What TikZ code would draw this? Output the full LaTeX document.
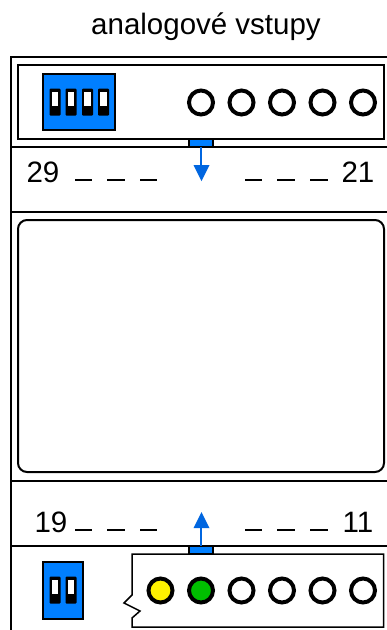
\documentclass[tikz,border=0pt]{standalone}
\usepackage{fontspec}
\setmainfont{Liberation Sans}
\definecolor{swblue}{HTML}{007FFF}
\definecolor{arrowblue}{HTML}{0066E0}
\definecolor{ledgreen}{HTML}{00BE00}
\tikzset{
  wire/.style={draw=black,line width=2pt},
  led/.style={circle,draw=black,line width=4pt,fill=white,minimum size=24pt,inner sep=0pt},
  txt/.style={font=\fontsize{29.5}{32}\selectfont,text=black,inner sep=0pt},
  dip/.style={draw=black,line width=2pt,fill=swblue},
  tab/.style={draw=black,line width=2pt,fill=swblue},
  flow/.style={draw=arrowblue,line width=2pt},
  head/.style={fill=arrowblue,draw=none},
  dashline/.style={draw=black,line width=2pt}
}
\newcommand{\toggle}[2]{%
  \fill[black,rounded corners=1pt] (#1-5.5,#2-13.5) rectangle (#1+5.5,#2+13.5);
  \fill[white] (#1-3.2,#2-10.5) rectangle (#1+3.2,#2+3.5);}
\begin{document}
\begin{tikzpicture}[x=1pt,y=-1pt]
\useasboundingbox (0,0) rectangle (387,630);
\fill[white] (0,0) rectangle (387,630);
\node[txt] (title) at (206,27) {analogové vstupy};
% housing
\draw[wire] (387,57) -- (11,57) -- (11,630);
\draw[wire] (11,147) -- (387,147);
\draw[wire] (11,212) -- (387,212);
\draw[wire] (11,481) -- (387,481);
\draw[wire] (11,546) -- (387,546);
% boxes
\draw[wire,fill=white] (18,65) rectangle (384,139);
\draw[wire,fill=white,rounded corners=9pt] (18,220) rectangle (384,472);
\draw[wire,fill=white,line width=1.5pt] (132,554) -- (383.5,554) -- (383.5,627) -- (132,627) -- (132,618) -- (140,611) -- (124,603) -- (132,595) -- cycle;
% dip switches
\draw[dip] (43,74) rectangle (115,130);
\toggle{55}{102}\toggle{71}{102}\toggle{87.5}{102}\toggle{103.5}{102}
\draw[dip] (43,562) rectangle (83,619);
\toggle{55}{590}\toggle{71}{590}
% LEDs top
\foreach \n/\x in {a/201,b/241.5,c/282,d/322.5,e/363}
  \node[led] (top\n) at (\x,102.5) {};
% LEDs bottom
\node[led,fill=yellow] (bota) at (160.5,590.5) {};
\node[led,fill=ledgreen] (botb) at (201,590.5) {};
\foreach \n/\x in {c/241.5,d/282,e/322.5,f/363}
  \node[led] (bot\n) at (\x,590.5) {};
% tabs and arrows
\draw[tab] (189,139) rectangle (213,147);
\draw[tab] (189,546) rectangle (213,554);
\draw[flow] (201,147) -- (201,166);
\fill[head] (193.5,165) -- (209.5,165) -- (201.5,181) -- cycle;
\draw[flow] (201,546) -- (201,527);
\fill[head] (193.5,528) -- (209.5,528) -- (201.5,512) -- cycle;
% numbers
\node[txt] (n29) at (43,172) {29};
\node[txt] (n21) at (358,172) {21};
\node[txt] (n19) at (51,522) {19};
\node[txt] (n11) at (358,522) {11};
% dashes
\foreach \y in {180,530}{
  \draw[dashline] (75,\y) -- (92,\y);
  \draw[dashline] (107,\y) -- (125,\y);
  \draw[dashline] (140,\y) -- (157,\y);
  \draw[dashline] (245,\y) -- (262,\y);
  \draw[dashline] (277,\y) -- (295,\y);
  \draw[dashline] (310,\y) -- (328,\y);
}
\end{tikzpicture}
\end{document}
